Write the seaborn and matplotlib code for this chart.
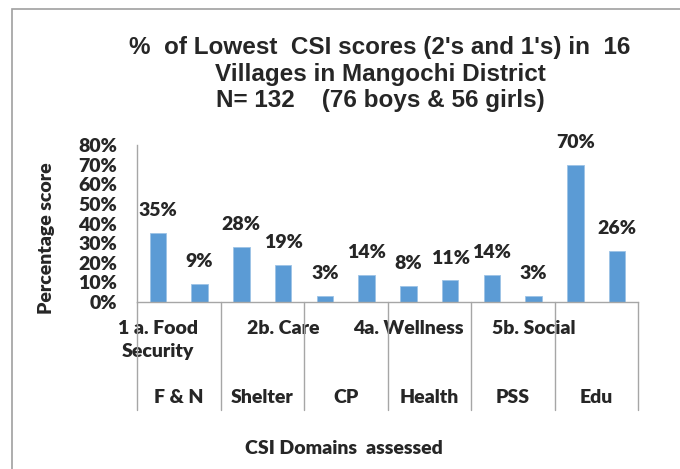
import numpy as np
import pandas as pd
import matplotlib
matplotlib.use('Agg')
import matplotlib.pyplot as plt
import matplotlib.transforms as mtransforms
from matplotlib.patches import Rectangle
import seaborn as sns

# ── data ──
subdomains = ['1a', '1b', '2a', '2b', '3a', '3b',
              '4a', '4b', '5a', '5b', '6a', '6b']
scores = [0.35, 0.09, 0.28, 0.19, 0.03, 0.14,
          0.08, 0.11, 0.14, 0.03, 0.70, 0.26]
tick_labels = ['1 a. Food\nSecurity', '', '', '2b. Care', '', '',
               '4a. Wellness', '', '', '5b. Social', '', '']
domains = ['F & N', 'Shelter', 'CP', 'Health', 'PSS', 'Edu']

df = pd.DataFrame({'sub': subdomains, 'score': scores})

sns.set_style('white')
label_font = ['Lato', 'DejaVu Sans']
title_font = ['Liberation Sans', 'DejaVu Sans']
wt = 'heavy'
bar_color = '#5B9BD5'
axis_gray = '#A6A6A6'

fig = plt.figure(figsize=(6.8, 4.69), dpi=100)
ax = fig.add_axes([137/680, 1-302/469, (638-137)/680, (302-145)/469])

sns.barplot(data=df, x='sub', y='score', color=bar_color, width=0.4,
            edgecolor='#9DC3E6', linewidth=0.6, saturation=1, ax=ax)
ax.set_ylim(0, 0.8)
ax.set_xlim(-0.5, len(subdomains) - 0.5)
ax.set_yticks(np.arange(0, 0.81, 0.1))
ax.set_yticklabels([f'{int(round(t*100))}%' for t in np.arange(0, 0.81, 0.1)],
                   fontsize=14, fontweight=wt, family=label_font)
ax.set_xticks(range(len(subdomains)))
ax.set_xticklabels(tick_labels, fontsize=14, fontweight=wt,
                   family=label_font, linespacing=1.45)
ax.tick_params(axis='y', length=0, pad=14.4)
ax.tick_params(axis='x', length=0, pad=13)
ax.set_xlabel('')
ax.set_ylabel('')

for side in ['top', 'right']:
    ax.spines[side].set_visible(False)
for side in ['left', 'bottom']:
    ax.spines[side].set_color(axis_gray)
    ax.spines[side].set_linewidth(1)

# value labels on bars
for i, v in enumerate(scores):
    ax.annotate(f'{int(round(v*100))}%', (i, v), xytext=(0, 10),
                textcoords='offset points', ha='center', va='bottom',
                fontsize=14, fontweight=wt, family=label_font)

# second level of the category axis (domain groups)
trans = mtransforms.blended_transform_factory(ax.transData, ax.transAxes)
n_per = len(subdomains) // len(domains)
for k, name in enumerate(domains):
    centre = k * n_per + (n_per - 1) / 2
    ax.text(centre, -0.61, name, transform=trans, ha='center', va='center',
            fontsize=14, fontweight=wt, family=label_font)
for k in range(len(domains) + 1):
    xb = k * n_per - 0.5
    ax.plot([xb, xb], [0, -0.688], transform=trans, color=axis_gray,
            lw=1, clip_on=False)

fig.text(47/680, 1-238/469, 'Percentage score', rotation=90,
         ha='center', va='center', fontsize=14, fontweight=wt,
         family=label_font)
fig.text(344/680, 1-448/469, 'CSI Domains  assessed', ha='center',
         va='center', fontsize=14, fontweight=wt, family=label_font)

fig.text(380/680, 1-74/469,
         "%  of Lowest  CSI scores (2's and 1's) in  16\n"
         "Villages in Mangochi District\n"
         "N= 132    (76 boys & 56 girls)",
         ha='center', va='center', fontsize=17.5, fontweight='bold',
         family=title_font, linespacing=1.22)

# outer chart border (clipped at right and bottom like the source)
fig.patches.append(Rectangle((12/680, -0.1), 1.0, 1 - 9/469 + 0.1,
                             transform=fig.transFigure, fill=False,
                             edgecolor='#A0A0A0', lw=1.2))

fig.savefig('out.png', dpi=100)
